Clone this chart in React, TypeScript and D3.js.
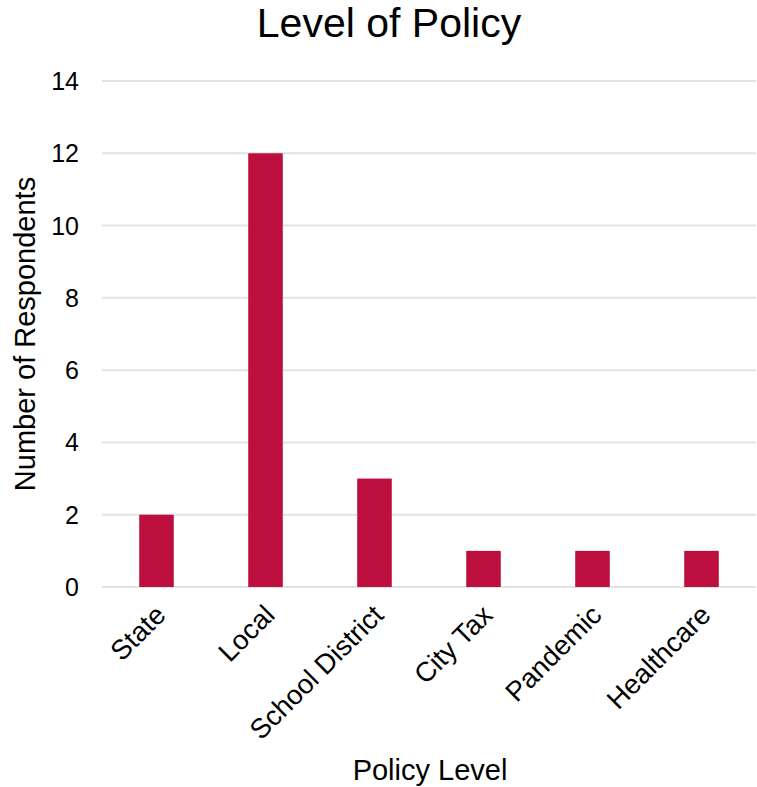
import { useRef, useEffect } from "react";
import * as d3 from "d3";

const categories = ["State", "Local", "School District", "City Tax", "Pandemic", "Healthcare"];
const respondents = [2, 12, 3, 1, 1, 1];
const yTicks = [0, 2, 4, 6, 8, 10, 12, 14];

export default function App() {
  const svgRef = useRef<SVGSVGElement>(null);

  useEffect(() => {
    if (!svgRef.current) return;
    const svg = d3.select(svgRef.current);
    svg.selectAll("*").remove();

    const width = 757;
    const height = 787;
    const font = "'Liberation Sans', Arial, sans-serif";

    const x = d3.scaleBand<string>().domain(categories).range([102, 756]).padding(0);
    const y = d3.scaleLinear().domain([0, 14]).range([587, 81]);
    const barW = x.bandwidth() * 0.317;

    svg.attr("width", width).attr("height", height);

    // gridlines
    svg.append("g")
      .selectAll("line")
      .data(yTicks)
      .join("line")
      .attr("x1", 102)
      .attr("x2", 756)
      .attr("y1", (d) => y(d))
      .attr("y2", (d) => y(d))
      .attr("stroke", "#e3e3e3")
      .attr("stroke-width", 2);

    // y tick labels
    svg.append("g")
      .selectAll("text")
      .data(yTicks)
      .join("text")
      .attr("x", 79)
      .attr("y", (d) => y(d))
      .attr("text-anchor", "end")
      .attr("dominant-baseline", "central")
      .attr("font-family", font)
      .attr("font-size", 25)
      .attr("fill", "#000")
      .text((d) => d);

    // bars
    svg.append("g")
      .selectAll("rect")
      .data(categories)
      .join("rect")
      .attr("x", (d) => x(d)! + x.bandwidth() / 2 - barW / 2)
      .attr("y", (_, i) => y(respondents[i]))
      .attr("width", barW)
      .attr("height", (_, i) => y(0) - y(respondents[i]))
      .attr("fill", "#bc0f3e");

    // x tick labels, rotated
    svg.append("g")
      .selectAll("text")
      .data(categories)
      .join("text")
      .attr("transform", (d) => `translate(${x(d)! + x.bandwidth() / 2 + 4},${610}) rotate(-45)`)
      .attr("text-anchor", "end")
      .attr("dominant-baseline", "central")
      .attr("font-family", font)
      .attr("font-size", 27.5)
      .attr("fill", "#000")
      .text((d) => d);

    // title
    svg.append("text")
      .attr("x", 389)
      .attr("y", 37)
      .attr("text-anchor", "middle")
      .attr("font-family", font)
      .attr("font-size", 41)
      .attr("fill", "#000")
      .text("Level of Policy");

    // x axis title
    svg.append("text")
      .attr("x", 430)
      .attr("y", 780)
      .attr("text-anchor", "middle")
      .attr("font-family", font)
      .attr("font-size", 29)
      .attr("fill", "#000")
      .text("Policy Level");

    // y axis title
    svg.append("text")
      .attr("transform", `translate(35,334) rotate(-90)`)
      .attr("text-anchor", "middle")
      .attr("font-family", font)
      .attr("font-size", 29)
      .attr("fill", "#000")
      .text("Number of Respondents");
  }, []);

  return (
    <div style={{ position: "absolute", left: 0, top: 0 }}>
      <svg ref={svgRef} style={{ display: "block" }} />
    </div>
  );
}
